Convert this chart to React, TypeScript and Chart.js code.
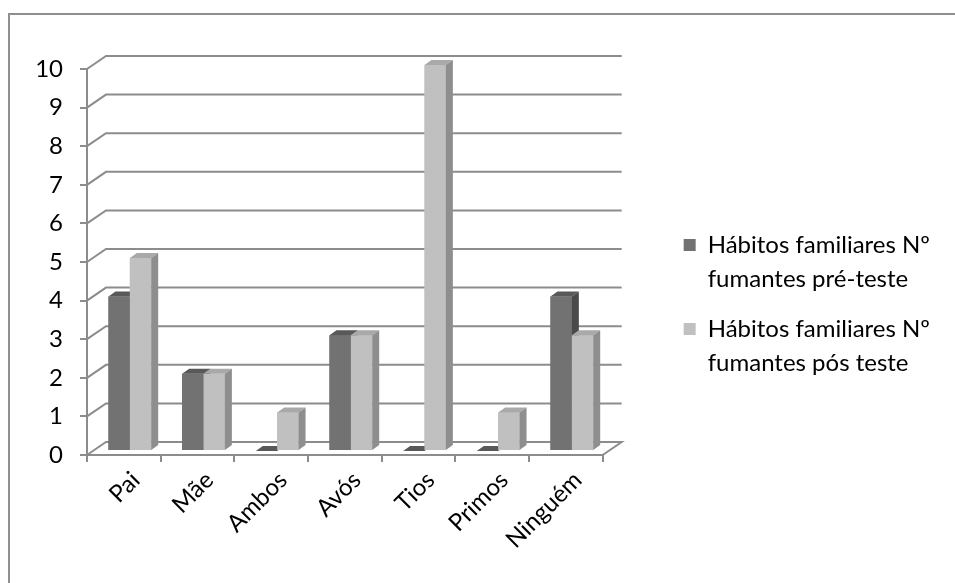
import React, { useEffect, useRef } from "react";
import { Chart, registerables } from "chart.js";

Chart.register(...registerables);

// Family members who smoke, before and after the test
const categories = ["Pai", "Mãe", "Ambos", "Avós", "Tios", "Primos", "Ninguém"];
const preTest = [4, 2, 0, 3, 0, 0, 4];
const postTest = [5, 2, 1, 3, 10, 1, 3];
const preLabelLines = ["Hábitos familiares Nº", "fumantes pré-teste"];
const postLabelLines = ["Hábitos familiares Nº", "fumantes pós teste"];
const yMin = 0;
const yMax = 10;
const yStep = 1;

const FONT = "Lato, 'Open Sans', sans-serif";
const GRID = "#8c8c8c";

// Face shades for each series: front, top, side
const shades = [
  { front: "#727272", top: "#595959", side: "#4a4a4a" },
  { front: "#c0c0c0", top: "#a9a9a9", side: "#8e8e8e" },
];

// Pseudo-3D geometry: back wall offset, bar front-face offset, bar depth
const WALL = { dx: 19, dy: -13 };
const BAR_SHIFT = { dx: 6, dy: -4 };
const BAR_DEPTH = { dx: 7, dy: -5 };

const depthPlugin = {
  id: "depth3d",
  beforeDatasetsDraw(chart: any) {
    const { ctx, chartArea } = chart;
    const y = chart.scales.y;
    ctx.save();
    ctx.strokeStyle = GRID;
    ctx.lineWidth = 2;
    ctx.lineJoin = "miter";
    for (let v = yMin; v <= yMax; v += yStep) {
      const py = y.getPixelForValue(v);
      ctx.beginPath();
      ctx.moveTo(chartArea.left, py);
      ctx.lineTo(chartArea.left + WALL.dx, py + WALL.dy);
      ctx.lineTo(chartArea.right + WALL.dx, py + WALL.dy);
      if (v === yMin) ctx.lineTo(chartArea.right, py);
      ctx.stroke();
    }
    ctx.restore();
    // bars sit part-way into the depth of the plot
    ctx.save();
    ctx.translate(BAR_SHIFT.dx, BAR_SHIFT.dy);
  },
  afterDatasetsDraw(chart: any) {
    const { ctx } = chart;
    const metas = chart.data.datasets.map((_: any, i: number) => chart.getDatasetMeta(i));
    const n = chart.data.labels.length;
    for (let c = 0; c < n; c++) {
      metas.forEach((meta: any, d: number) => {
        const bar = meta.data[c];
        if (!bar) return;
        const { x, y, base, width } = bar.getProps(["x", "y", "base", "width"], true);
        const left = x - width / 2;
        const right = x + width / 2;
        const top = Math.min(y, base);
        const bottom = Math.max(y, base);
        const s = shades[d];
        // front face (repainted so that it covers the neighbour's side face)
        ctx.fillStyle = s.front;
        ctx.fillRect(left, top, width, bottom - top);
        // top face
        ctx.fillStyle = s.top;
        ctx.beginPath();
        ctx.moveTo(left, top);
        ctx.lineTo(left + BAR_DEPTH.dx, top + BAR_DEPTH.dy);
        ctx.lineTo(right + BAR_DEPTH.dx, top + BAR_DEPTH.dy);
        ctx.lineTo(right, top);
        ctx.closePath();
        ctx.fill();
        // side face
        ctx.fillStyle = s.side;
        ctx.beginPath();
        ctx.moveTo(right, top);
        ctx.lineTo(right + BAR_DEPTH.dx, top + BAR_DEPTH.dy);
        ctx.lineTo(right + BAR_DEPTH.dx, bottom + BAR_DEPTH.dy);
        ctx.lineTo(right, bottom);
        ctx.closePath();
        ctx.fill();
      });
    }
    ctx.restore();
  },
};

export default function App() {
  const canvasRef = useRef<HTMLCanvasElement | null>(null);

  useEffect(() => {
    if (!canvasRef.current) return;
    Chart.defaults.font.family = FONT;
    const seriesLines = [preLabelLines, postLabelLines];
    const chart = new Chart(canvasRef.current, {
      type: "bar",
      data: {
        labels: categories,
        datasets: [
          {
            label: preLabelLines.join(" "),
            data: preTest,
            backgroundColor: shades[0].front,
            borderWidth: 0,
            clip: false,
          } as any,
          {
            label: postLabelLines.join(" "),
            data: postTest,
            backgroundColor: shades[1].front,
            borderWidth: 0,
            clip: false,
          } as any,
        ],
      },
      options: {
        animation: false,
        responsive: true,
        maintainAspectRatio: false,
        devicePixelRatio: 1,
        events: [],
        layout: { padding: { left: 0, top: 69, right: 15, bottom: 34 } },
        datasets: { bar: { categoryPercentage: 0.58, barPercentage: 1 } },
        scales: {
          x: {
            offset: true,
            grid: {
              display: true,
              drawOnChartArea: false,
              drawTicks: true,
              tickLength: 7,
              offset: true,
              color: GRID,
              lineWidth: 2,
            },
            border: { display: true, color: GRID, width: 2 },
            ticks: {
              autoSkip: false,
              minRotation: 45,
              maxRotation: 45,
              color: "#000",
              padding: 4,
              labelOffset: 12,
              font: { family: FONT, size: 24 },
            },
            afterFit(scale: any) {
              scale.height = 94;
            },
          },
          y: {
            min: yMin,
            max: yMax,
            ticks: {
              stepSize: yStep,
              color: "#000",
              padding: 17,
              font: { family: FONT, size: 24 },
            },
            grid: {
              drawOnChartArea: false,
              tickLength: 7,
              color: GRID,
              lineWidth: 2,
            },
            border: { display: true, color: GRID, width: 2 },
            afterFit(scale: any) {
              scale.width = 87;
            },
          },
          gap: {
            type: "linear",
            axis: "y",
            position: "right",
            display: true,
            grid: { display: false },
            border: { display: false },
            ticks: { display: false },
            afterFit(scale: any) {
              scale.width = 65;
            },
          } as any,
        },
        plugins: {
          tooltip: { enabled: false },
          title: { display: false },
          legend: {
            position: "right",
            align: "center",
            maxWidth: 400,
            labels: {
              boxWidth: 12,
              boxHeight: 12,
              padding: 16,
              color: "#000",
              font: { family: FONT, size: 24, lineHeight: 34 / 24 },
              generateLabels(ch: any) {
                return ch.data.datasets.map((ds: any, i: number) => ({
                  text: seriesLines[i],
                  fillStyle: ds.backgroundColor,
                  strokeStyle: ds.backgroundColor,
                  lineWidth: 0,
                  hidden: false,
                  datasetIndex: i,
                  fontColor: "#000",
                }));
              },
            },
          },
        },
      },
      plugins: [depthPlugin],
    });
    return () => chart.destroy();
  }, []);

  return (
    <div style={{ position: "fixed", left: 0, top: 0, width: 955, height: 583, background: "#fff" }}>
      <div
        style={{
          position: "absolute",
          left: 8,
          top: 13,
          right: -10,
          bottom: -10,
          borderLeft: "2px solid #8f8f8f",
          borderTop: "2px solid #8f8f8f",
        }}
      />
      <canvas ref={canvasRef} style={{ position: "relative" }} />
    </div>
  );
}
